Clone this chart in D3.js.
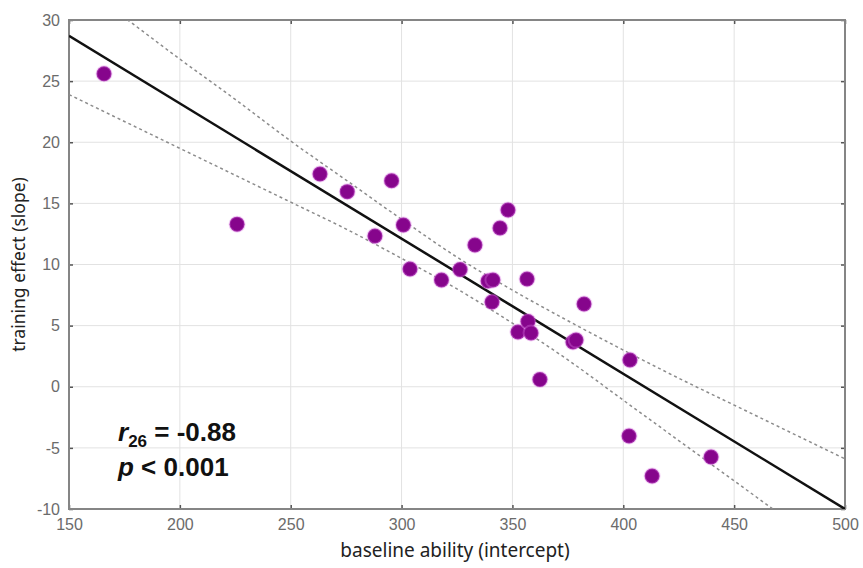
<!DOCTYPE html>
<html>
<head>
<meta charset="utf-8">
<script src="https://cdn.jsdelivr.net/npm/d3@7"></script>
<style>
  html, body { margin: 0; padding: 0; background: #ffffff; }
  svg { display: block; }
</style>
</head>
<body>
<svg id="chart" width="863" height="568"></svg>
<script>
// Baseline ability (intercept) and training effect (slope) per participant
const intercepts = [165.8, 225.8, 263.2, 275.5, 295.5, 288.0, 300.8, 303.8, 318.0, 326.4,
                    333.1, 339.0, 341.2, 340.8, 344.4, 348.0, 356.6, 352.5, 357.0, 358.4,
                    362.4, 377.3, 378.7, 382.3, 403.0, 402.6, 413.0, 439.6];
const slopes     = [25.6, 13.3, 17.4, 15.96, 16.85, 12.33, 13.23, 9.63, 8.73, 9.59,
                    11.6, 8.65, 8.73, 6.93, 12.99, 14.46, 8.81, 4.48, 5.34, 4.40,
                    0.59, 3.66, 3.82, 6.77, 2.19, -4.03, -7.30, -5.75];

// Least-squares fit line end points
const fitX = [150, 500];
const fitY = [28.7, -10.0];

// 95% confidence band around the fit
const bandX     = [150, 175, 200, 225, 250, 275, 300, 325, 350, 375, 400, 425, 450, 475, 500];
const bandUpper = [33.5, 30.2, 26.8, 23.5, 20.1, 16.9, 13.7, 10.6, 7.9, 5.4, 3.0, 0.7, -1.5, -3.7, -5.9];
const bandLower = [23.9, 21.7, 19.5, 17.3, 15.1, 12.9, 10.5, 8.0, 5.2, 2.2, -1.1, -4.4, -7.7, -11.0, -14.4];

const xTicks = [150, 200, 250, 300, 350, 400, 450, 500];
const yTicks = [-10, -5, 0, 5, 10, 15, 20, 25, 30];

const svg = d3.select("#chart");
const pLeft = 69, pRight = 845, pTop = 20, pBottom = 509;

const x = d3.scaleLinear().domain([150, 500]).range([pLeft, pRight]);
const y = d3.scaleLinear().domain([-10, 30]).range([pBottom, pTop]);

svg.append("defs").append("clipPath").attr("id", "plotClip")
  .append("rect").attr("x", pLeft).attr("y", pTop)
  .attr("width", pRight - pLeft).attr("height", pBottom - pTop);

// grid
const grid = svg.append("g");
grid.selectAll("line.vx").data(xTicks).join("line")
  .attr("x1", d => x(d)).attr("x2", d => x(d))
  .attr("y1", pTop).attr("y2", pBottom)
  .attr("stroke", "#e2e2e2").attr("stroke-width", 1);
grid.selectAll("line.hy").data(yTicks).join("line")
  .attr("x1", pLeft).attr("x2", pRight)
  .attr("y1", d => y(d)).attr("y2", d => y(d))
  .attr("stroke", "#e2e2e2").attr("stroke-width", 1);

// axes with inward ticks on all four sides; labels use a plain hyphen for negatives
const tickFont = "'Liberation Sans', Arial, sans-serif";
const plain = d => String(d);
const bottomAxis = svg.append("g").attr("transform", `translate(0,${pBottom})`)
  .call(d3.axisBottom(x).tickValues(xTicks).tickSize(-4).tickPadding(10).tickFormat(plain));
const leftAxis = svg.append("g").attr("transform", `translate(${pLeft},0)`)
  .call(d3.axisLeft(y).tickValues(yTicks).tickSize(-4).tickPadding(9).tickFormat(plain));
const topAxis = svg.append("g").attr("transform", `translate(0,${pTop})`)
  .call(d3.axisTop(x).tickValues(xTicks).tickSize(-4).tickFormat(""));
const rightAxis = svg.append("g").attr("transform", `translate(${pRight},0)`)
  .call(d3.axisRight(y).tickValues(yTicks).tickSize(-4).tickFormat(""));

[bottomAxis, leftAxis, topAxis, rightAxis].forEach(g => {
  g.select(".domain").remove();
  g.selectAll(".tick line").attr("stroke", "#555").attr("stroke-width", 1.5);
  g.selectAll("text").attr("fill", "#6b6b6b")
    .style("font-family", tickFont).style("font-size", "16px");
});

// frame
svg.append("rect").attr("x", pLeft).attr("y", pTop)
  .attr("width", pRight - pLeft).attr("height", pBottom - pTop)
  .attr("fill", "none").attr("stroke", "#858585").attr("stroke-width", 2);

const plot = svg.append("g").attr("clip-path", "url(#plotClip)");

// confidence band
const bandLine = (vals) => d3.line()
  .x((d, i) => x(bandX[i])).y((d, i) => y(vals[i]))
  .curve(d3.curveMonotoneX)(vals);
[bandUpper, bandLower].forEach(vals => {
  plot.append("path").attr("d", bandLine(vals))
    .attr("fill", "none").attr("stroke", "#8c8c8c")
    .attr("stroke-width", 1.5).attr("stroke-dasharray", "3,3");
});

// fit line
plot.append("path")
  .attr("d", d3.line().x((d, i) => x(fitX[i])).y(d => y(d))(fitY))
  .attr("fill", "none").attr("stroke", "#111").attr("stroke-width", 2.5);

// points
svg.append("g").selectAll("circle").data(intercepts).join("circle")
  .attr("cx", d => x(d)).attr("cy", (d, i) => y(slopes[i]))
  .attr("r", 7.5)
  .attr("fill", "#86058c")
  .attr("stroke", "rgba(220,120,230,0.35)").attr("stroke-width", 2);

// axis titles
const titleFont = "'Noto Sans', 'Open Sans', sans-serif";
svg.append("text").attr("x", 455).attr("y", 557)
  .attr("text-anchor", "middle").attr("fill", "#222")
  .style("font-family", titleFont).style("font-size", "19px")
  .text("baseline ability (intercept)");
svg.append("text")
  .attr("transform", `translate(25,${(pTop + pBottom) / 2}) rotate(-90)`)
  .attr("text-anchor", "middle").attr("fill", "#222")
  .style("font-family", titleFont).style("font-size", "17.5px")
  .text("training effect (slope)");

// correlation annotation
const annFont = "'Liberation Sans', Arial, sans-serif";
const r = svg.append("text").attr("x", 118).attr("y", 441)
  .attr("fill", "#111").style("font-family", annFont)
  .style("font-size", "26px").style("font-weight", "bold");
r.append("tspan").style("font-style", "italic").text("r");
r.append("tspan").attr("dy", 6).style("font-size", "17px").text("26");
r.append("tspan").attr("dy", -6).text(" = -0.88");

const p = svg.append("text").attr("x", 118).attr("y", 476)
  .attr("fill", "#111").style("font-family", annFont)
  .style("font-size", "26px").style("font-weight", "bold");
p.append("tspan").style("font-style", "italic").text("p");
p.append("tspan").text(" < 0.001");
</script>
</body>
</html>
